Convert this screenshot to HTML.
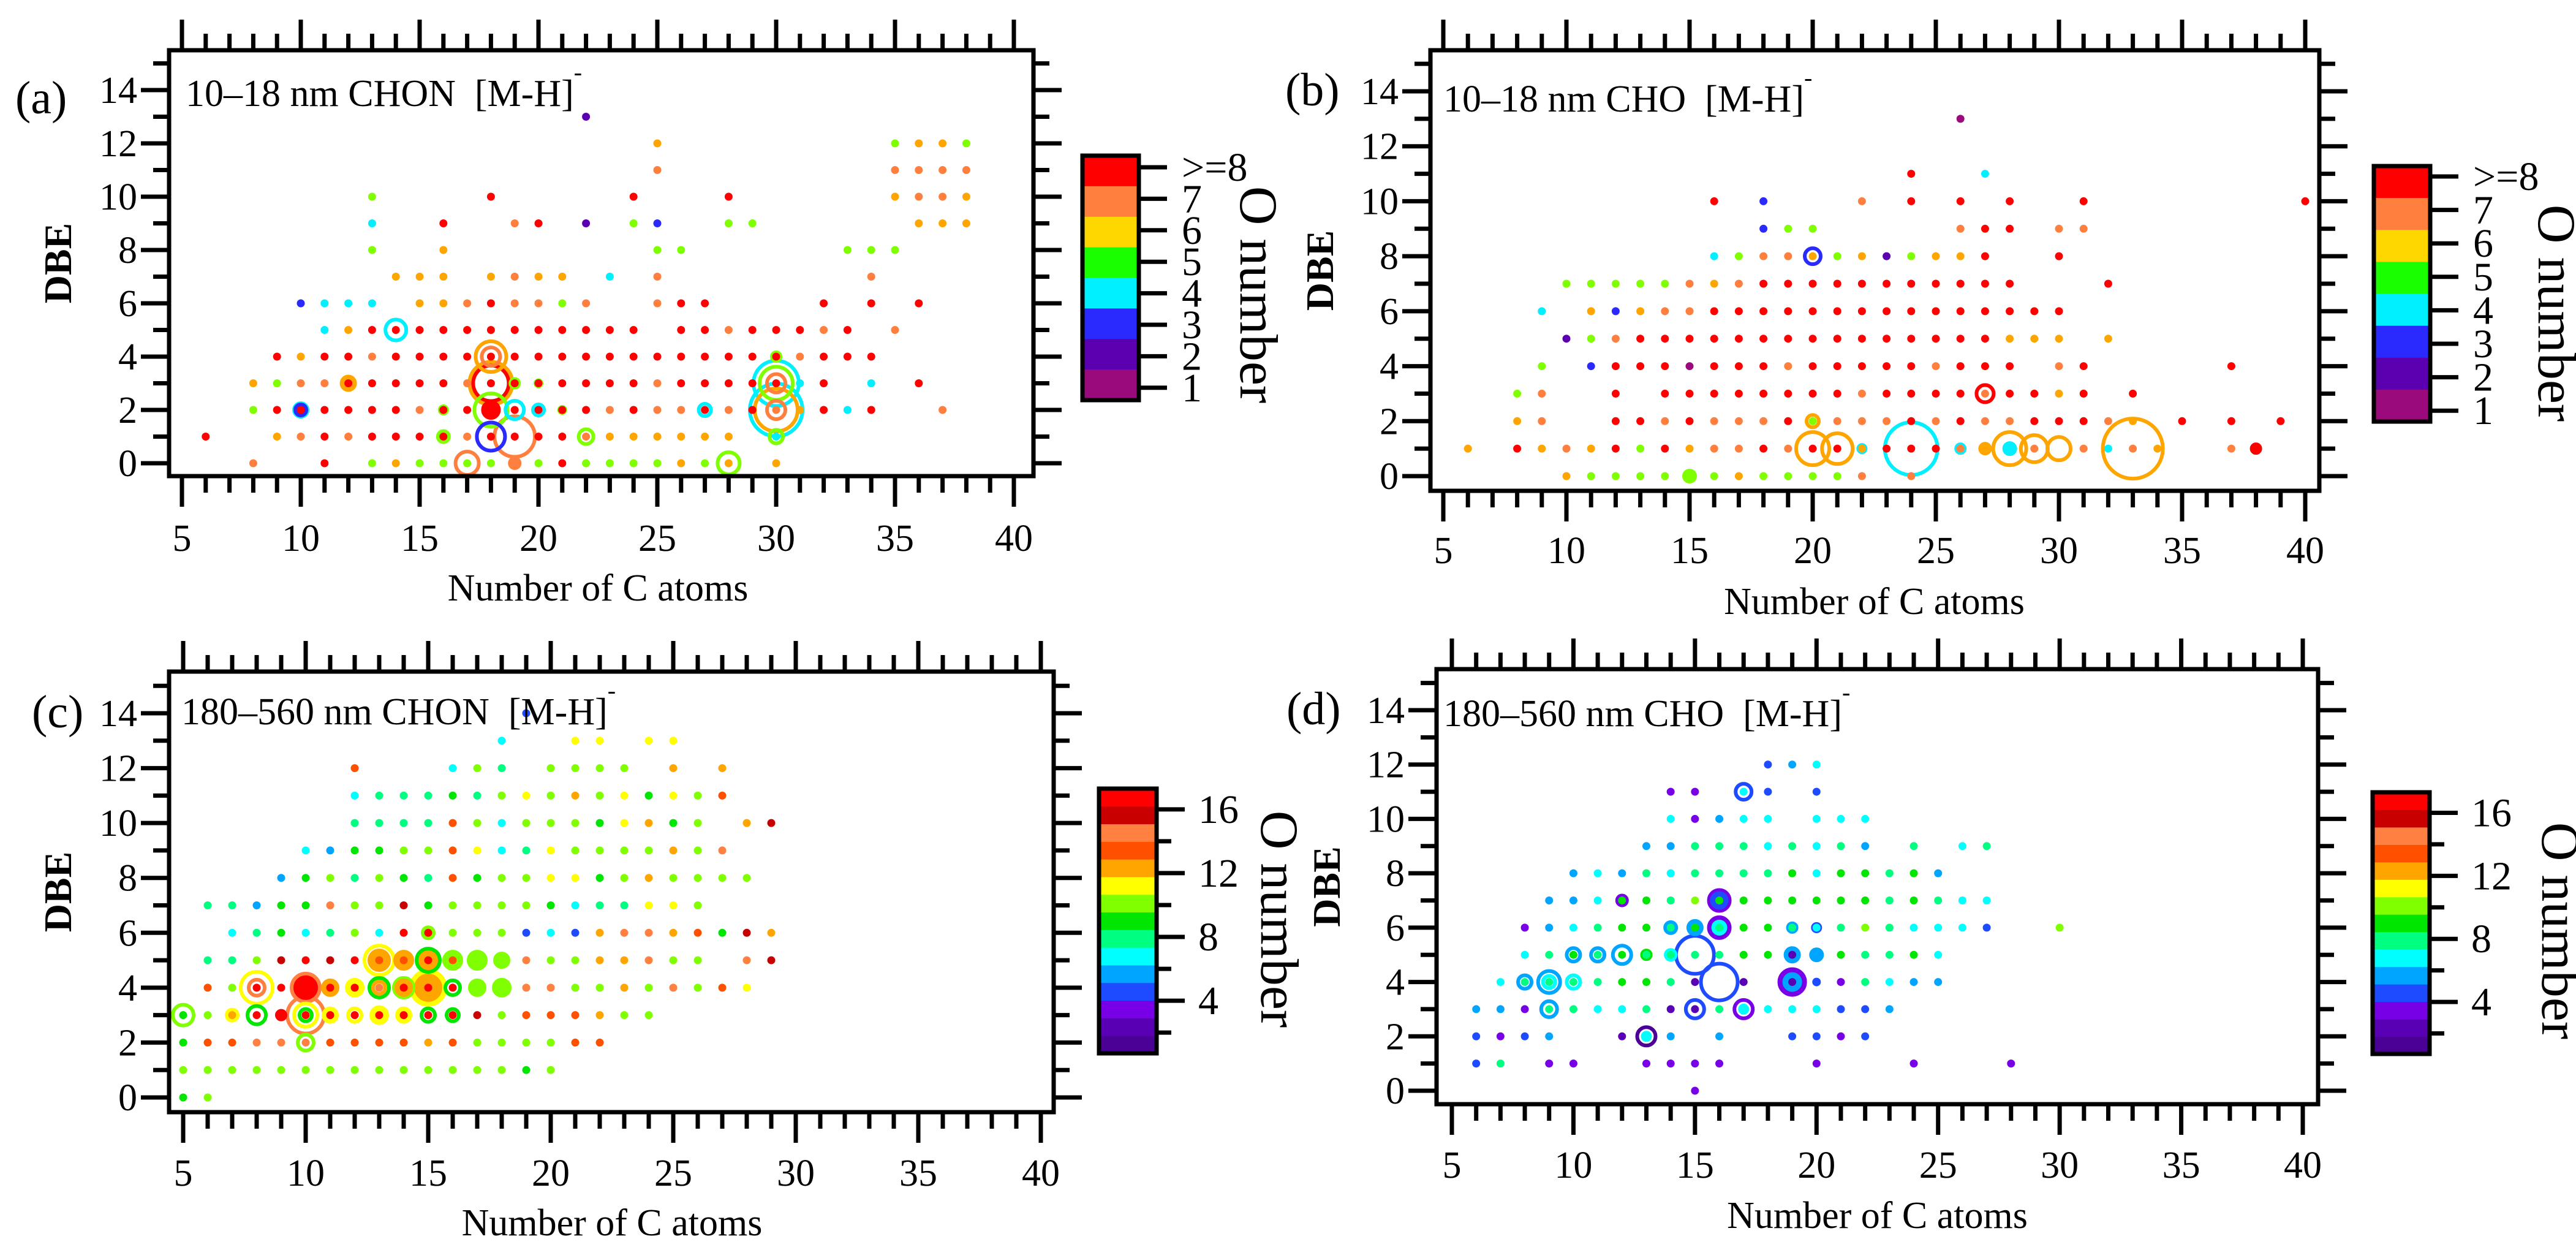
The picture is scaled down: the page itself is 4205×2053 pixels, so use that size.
<!DOCTYPE html>
<html><head><meta charset="utf-8"><style>
html,body{margin:0;padding:0;background:#fff;}
svg{display:block;font-family:"Liberation Serif",serif;}
</style></head><body>
<svg id="fig" width="4205" height="2053" viewBox="0 0 4205 2053" xmlns="http://www.w3.org/2000/svg"></svg>
<script>
// ---------- DATA: rows are [DBE, [[C, O], ...]] ----------
const aRows = [
 [13,[[22,2]]],
 [12,[[25,6],[35,5],[36,6],[37,6],[38,5]]],
 [11,[[25,7],[35,7],[36,7],[37,7],[38,7]]],
 [10,[[13,5],[18,8],[24,8],[28,8],[35,6],[36,7],[37,7],[38,6]]],
 [9,[[13,4],[16,8],[19,7],[20,8],[22,2],[24,5],[25,3],[28,5],[29,5],[36,6],[37,6],[38,6]]],
 [8,[[13,5],[16,6],[25,5],[26,5],[33,5],[34,5],[35,5]]],
 [7,[[14,6],[15,6],[16,6],[18,6],[19,7],[20,6],[21,6],[23,4],[25,7],[34,7]]],
 [6,[[10,3],[11,4],[12,4],[13,4],[15,6],[16,6],[17,7],[18,8],[19,7],[20,7],[21,5],[22,7],[25,7],[26,8],[27,8],[32,8],[34,8],[36,8]]],
 [5,[[11,4],[12,6],[13,8],[14,8],[15,8],[16,8],[17,8],[18,8],[19,8],[20,8],[21,8],[22,8],[23,8],[24,8],[26,8],[27,8],[28,7],[29,8],[30,8],[31,8],[32,7],[33,8],[35,7]]],
 [4,[[9,8],[10,6],[11,8],[12,8],[13,7],[14,8],[15,8],[16,8],[17,8],[18,8],[19,8],[20,8],[21,8],[22,8],[23,8],[24,8],[25,8],[26,8],[27,8],[28,8],[29,8],[30,8],[31,7],[32,8],[33,8],[34,8]]],
 [3,[[8,6],[9,5],[10,7],[11,7],[12,8],[13,8],[14,8],[15,8],[16,8],[17,7],[18,8],[19,8],[20,8],[21,8],[22,8],[23,8],[24,8],[25,7],[26,8],[27,8],[28,8],[29,8],[30,8],[31,4],[32,8],[34,4],[36,8]]],
 [2,[[8,5],[9,8],[10,8],[11,8],[12,8],[13,8],[14,8],[15,7],[16,8],[17,8],[18,8],[19,8],[20,8],[21,8],[22,8],[23,7],[24,8],[25,7],[26,7],[27,8],[28,7],[29,8],[30,7],[31,6],[32,8],[33,4],[34,8],[37,7]]],
 [1,[[6,8],[9,6],[10,7],[11,8],[12,7],[13,8],[14,8],[15,8],[16,8],[17,7],[18,8],[19,8],[20,8],[21,8],[22,7],[23,6],[24,6],[25,6],[26,6],[27,6],[28,6],[30,4]]],
 [0,[[8,7],[11,8],[13,5],[14,6],[15,5],[16,5],[17,5],[18,5],[19,7],[20,5],[21,8],[22,5],[23,5],[24,5],[25,5],[26,6],[27,5],[28,6],[30,6]]]
];
const aBubbles = [[14,5,4,20,0],[10,2,4,14,0],[10,2,3,10,1],[12,3,6,12,1],[17,0,7,22,0],[16,1,5,12,0],[16,2,5,9,0],[18,1,3,26,0],[19,1,7,36,0],[18,2,5,30,0],[18,2,8,14,1],[18,3,6,38,0],[18,3,8,32,0],[18,4,6,28,0],[18,4,7,18,0],[19,2,4,18,0],[20,2,4,12,0],[19,3,5,10,0],[20,3,5,8,0],[21,2,5,8,0],[22,1,5,15,0],[27,2,4,13,0],[28,0,5,21,0],[30,2,4,46,0],[30,3,4,40,0],[30,3,5,30,0],[30,3,7,18,0],[30,2,6,38,0],[30,2,7,18,0],[30,1,5,14,0],[30,4,5,10,0],[19,0,7,9,1]];

const bRows = [
 [13,[[26,1]]],
 [11,[[24,8],[27,4]]],
 [10,[[16,8],[18,3],[22,7],[24,8],[26,8],[28,8],[31,8],[40,8]]],
 [9,[[18,3],[19,5],[20,5],[26,7],[27,8],[28,8],[30,7],[31,7]]],
 [8,[[16,4],[17,5],[18,7],[19,7],[20,6],[21,5],[22,6],[23,2],[24,5],[25,6],[26,6],[27,8],[30,8]]],
 [7,[[10,5],[11,5],[12,5],[13,5],[14,5],[15,7],[16,6],[17,7],[18,8],[19,8],[20,8],[21,8],[22,8],[23,8],[24,8],[25,8],[26,8],[27,8],[28,8],[32,8]]],
 [6,[[9,4],[11,6],[12,3],[13,6],[14,7],[15,7],[16,8],[17,8],[18,8],[19,8],[20,8],[21,8],[22,8],[23,8],[24,8],[25,8],[26,8],[27,8],[28,8],[29,8],[30,8]]],
 [5,[[10,2],[11,5],[12,7],[13,8],[14,8],[15,8],[16,8],[17,8],[18,8],[19,8],[20,8],[21,8],[22,8],[23,8],[24,8],[25,8],[26,8],[27,8],[28,6],[29,6],[30,6],[32,6]]],
 [4,[[9,5],[11,3],[12,8],[13,8],[14,8],[15,1],[16,8],[17,8],[18,8],[19,7],[20,8],[21,8],[22,8],[23,8],[24,8],[25,7],[26,8],[27,8],[28,8],[30,7],[31,8],[37,8]]],
 [3,[[8,5],[9,7],[12,8],[14,8],[15,8],[16,8],[17,8],[18,8],[19,8],[20,8],[21,8],[22,7],[23,8],[24,8],[25,8],[26,8],[27,7],[28,8],[29,8],[30,6],[31,8],[33,8]]],
 [2,[[8,6],[9,7],[12,8],[13,8],[14,7],[15,8],[16,7],[17,7],[18,7],[19,8],[20,5],[21,7],[22,7],[23,7],[24,8],[25,7],[26,8],[27,7],[28,7],[29,8],[30,8],[31,8],[32,7],[33,6],[35,8],[37,8],[39,8]]],
 [1,[[6,6],[8,8],[9,6],[10,7],[11,6],[12,8],[13,5],[14,8],[15,6],[16,7],[17,7],[18,8],[19,7],[20,8],[21,8],[22,6],[23,8],[24,8],[25,8],[26,7],[27,6],[28,4],[29,7],[31,7],[32,4],[33,7],[34,6],[37,7],[38,8]]],
 [0,[[10,6],[11,5],[12,5],[13,5],[14,5],[15,5],[16,5],[17,6],[18,5],[19,5],[20,5],[21,5],[22,7],[24,7]]]
];
const bBubbles = [[20,8,3,16,0],[27,3,8,17,0],[20,2,6,13,0],[20,1,6,30,0],[21,1,6,28,0],[22,1,4,9,0],[24,1,4,46,0],[26,1,4,10,0],[27,1,6,9,1],[28,1,6,30,0],[28,1,4,12,0],[29,1,6,25,0],[30,1,6,22,0],[33,1,6,52,0],[15,0,5,10,1],[38,1,8,8,1]];

const cRows = [
 [14,[[19,5]]],
 [13,[[18,7],[21,11],[22,11],[24,11],[25,11]]],
 [12,[[12,13],[16,7],[17,10],[18,8],[20,10],[21,10],[22,10],[23,10],[25,12],[27,12]]],
 [11,[[12,7],[13,8],[14,8],[15,8],[16,9],[17,8],[18,10],[19,11],[20,10],[21,12],[22,10],[23,11],[24,9],[25,11],[26,10],[27,13]]],
 [10,[[12,8],[13,8],[14,8],[15,8],[16,13],[17,10],[18,7],[19,10],[20,10],[21,10],[22,9],[23,11],[24,12],[25,9],[26,10],[28,12],[29,16]]],
 [9,[[10,7],[11,6],[12,9],[13,9],[14,10],[15,10],[16,13],[17,11],[18,7],[19,8],[20,11],[21,10],[22,10],[23,10],[24,10],[25,12],[26,10],[27,14]]],
 [8,[[9,6],[10,9],[11,10],[12,8],[13,10],[14,9],[15,8],[16,13],[17,9],[18,10],[19,10],[20,11],[21,11],[22,9],[23,10],[24,12],[25,10],[26,10],[27,10],[28,10]]],
 [7,[[6,8],[7,8],[8,6],[9,9],[10,9],[11,14],[12,10],[13,10],[14,16],[15,9],[16,10],[17,10],[18,10],[19,10],[20,9],[21,7],[22,8],[23,8],[24,11],[25,11],[26,10]]],
 [6,[[7,7],[8,8],[9,9],[10,7],[11,8],[12,10],[13,7],[14,17],[15,17],[16,10],[17,10],[18,10],[19,5],[20,7],[21,5],[22,12],[23,14],[24,14],[25,12],[26,13],[27,9],[28,16],[29,12]]],
 [5,[[6,8],[7,8],[8,10],[9,16],[10,17],[11,16],[12,17],[13,13],[14,13],[15,17],[16,13],[17,10],[18,10],[19,14],[20,10],[21,10],[22,12],[23,12],[24,14],[25,10],[26,10],[28,14],[29,16]]],
 [4,[[6,13],[7,10],[8,17],[9,17],[10,17],[11,17],[12,17],[13,14],[14,17],[15,17],[16,17],[17,10],[18,10],[19,14],[20,14],[21,10],[22,10],[23,12],[24,10],[25,14],[26,10],[27,13],[28,11]]],
 [3,[[5,9],[6,10],[7,12],[8,17],[9,17],[10,17],[11,17],[12,17],[13,17],[14,17],[15,17],[16,17],[17,16],[18,10],[19,13],[20,13],[21,13],[22,12],[23,10],[24,10]]],
 [2,[[5,9],[6,13],[7,13],[8,14],[9,14],[10,14],[11,13],[12,13],[13,13],[14,13],[15,12],[16,13],[17,10],[18,10],[19,10],[20,10],[21,13],[22,13]]],
 [1,[[5,10],[6,10],[7,10],[8,10],[9,10],[10,10],[11,10],[12,10],[13,10],[14,10],[15,10],[16,10],[17,10],[18,10],[19,9],[20,10]]],
 [0,[[5,9],[6,10]]]
];
const cBubbles = [[5,3,10,20,0],[7,3,11,12,0],[8,3,9,18,0],[8,4,11,29,0],[8,4,14,16,0],[10,2,10,16,0],[10,3,14,33,0],[10,3,11,22,0],[10,3,9,13,0],[10,4,14,24,1],[10,4,17,18,1],[11,4,12,13,1],[11,3,11,12,1],[12,4,11,14,1],[12,3,11,14,0],[13,5,11,27,0],[13,5,12,17,1],[13,4,9,19,0],[13,4,12,13,0],[13,3,11,14,1],[14,5,12,15,1],[14,4,10,19,0],[14,4,12,13,1],[14,3,11,12,1],[15,5,9,20,1],[15,5,12,14,1],[15,4,11,29,1],[15,4,12,21,1],[15,3,9,14,0],[15,6,10,10,1],[16,5,10,15,1],[16,4,9,15,0],[16,3,9,13,0],[17,5,10,15,1],[17,4,10,13,1],[18,4,10,14,1],[18,5,10,12,1],[9,3,17,8,1]];

const dRows = [
 [12,[[18,5],[19,6],[20,7]]],
 [11,[[14,4],[15,4],[17,7],[18,5],[20,5]]],
 [10,[[14,7],[15,4],[16,6],[17,7],[18,7],[20,7],[21,7],[22,7]]],
 [9,[[13,6],[14,6],[15,8],[16,8],[17,8],[18,7],[19,8],[20,7],[21,8],[22,6],[24,8],[26,7],[27,8]]],
 [8,[[10,6],[11,7],[12,6],[13,8],[14,7],[15,8],[16,8],[17,8],[18,8],[19,9],[20,7],[21,9],[22,9],[23,8],[24,9],[25,6]]],
 [7,[[9,6],[10,6],[11,7],[12,9],[13,9],[14,8],[15,10],[16,9],[17,9],[18,9],[19,9],[20,9],[21,9],[22,9],[23,8],[24,9],[25,8],[26,7],[27,7]]],
 [6,[[8,4],[9,6],[10,7],[11,8],[12,9],[13,9],[14,8],[15,9],[16,8],[17,9],[18,9],[19,8],[20,7],[21,8],[22,10],[23,8],[24,7],[25,7],[26,7],[27,5],[30,10]]],
 [5,[[8,7],[9,8],[10,9],[11,8],[12,9],[13,8],[14,8],[15,8],[16,8],[17,9],[18,9],[19,2],[20,6],[21,9],[22,8],[23,8],[24,9],[25,7]]],
 [4,[[7,7],[8,8],[9,8],[10,8],[11,8],[12,9],[13,9],[14,8],[15,2],[17,2],[19,2],[20,5],[21,4],[22,8],[23,7],[24,6],[25,6]]],
 [3,[[6,6],[7,6],[8,4],[9,8],[10,8],[11,7],[12,7],[13,8],[14,2],[15,2],[16,8],[17,7],[18,7],[19,7],[20,7],[21,5],[22,5],[23,6]]],
 [2,[[6,5],[7,4],[8,5],[9,6],[12,2],[13,7],[14,6],[16,6],[19,5],[20,5],[21,4],[22,5]]],
 [1,[[6,5],[7,8],[9,4],[10,4],[13,4],[14,4],[15,4],[16,4],[20,4],[24,4],[28,4]]],
 [0,[[15,4]]]
];
const dBubbles = [[17,11,5,16,0],[12,7,4,9,1],[16,7,4,18,1],[16,7,5,13,1],[14,6,6,10,1],[15,6,6,12,1],[16,6,4,18,1],[16,6,7,11,1],[19,6,6,8,1],[20,6,5,7,1],[10,5,6,14,0],[11,5,6,14,0],[12,5,6,18,0],[13,5,9,8,1],[14,5,7,9,1],[15,5,5,34,0],[19,5,6,12,1],[20,5,6,10,1],[8,4,6,14,0],[9,4,6,21,0],[9,4,7,13,0],[10,4,7,14,0],[16,4,5,33,0],[19,4,4,22,1],[19,4,6,14,1],[20,4,5,7,0],[9,3,6,16,0],[15,3,5,18,0],[17,3,4,18,0],[17,3,7,9,0],[13,2,1,18,0],[13,2,7,7,1]];

const xTicks = [5,10,15,20,25,30,35,40];
const yTicks = [0,2,4,6,8,10,12,14];
const smallLabels = [">=8","7","6","5","4","3","2","1"];
const bigTicks = [16,12,8,4];

const smallDotColors = ["#9b0a7d","#5a00b0","#2a2aff","#00f0ff","#7fff00","#ffa500","#ff7f3f","#ff0000"];
const smallBarColors = ["#ff0000","#ff7f3f","#ffd700","#19ff00","#00f0ff","#2a2aff","#5a00b0","#9b0a7d"];
const bigColors = ["#4b0096","#5a00b4","#7800e6","#1e4bff","#00a5ff","#00ffff","#00ff80","#00e600","#80ff00","#ffff00","#ffa500","#ff5000","#ff8040","#c80000","#ff0000"];
const bigMin = 0.7, bigMax = 17.3;
function bigColor(o){let k=Math.floor((o-bigMin)/((bigMax-bigMin)/bigColors.length));k=Math.max(0,Math.min(bigColors.length-1,k));return bigColors[k];}
function smallColor(o){return smallDotColors[Math.max(1,Math.min(8,o))-1];}

const NS="http://www.w3.org/2000/svg";
const svg=document.getElementById('fig');
function mk(tag,attrs,parent){const e=document.createElementNS(NS,tag);for(const k in attrs)e.setAttribute(k,attrs[k]);(parent||svg).appendChild(e);return e;}
function txt(s,attrs,parent){const e=mk('text',attrs,parent);e.textContent=s;return e;}

function drawPanel(p, rows, bubbles, colorFn){
  const g=mk('g',{});
  
  
  const sx=c=>p.x5+(c-5)*(p.x40-p.x5)/35;
  const sy=d=>p.y0-(d)*(p.y0-p.y14)/14;
  for(let c=5;c<=40;c++){
    const major=(c%5===0), len=major?50:27, X=sx(c);
    const t1=mk('line',{x1:X,x2:X,y1:p.B,y2:p.B+len,stroke:'#000','stroke-width':7},g);
    
    
    const t2=mk('line',{x1:X,x2:X,y1:p.T,y2:p.T-len,stroke:'#000','stroke-width':7},g);
    
    
  }
  for(let d=0;d<=15;d++){
    const Y=sy(d); if(Y<p.T+4) continue;
    const major=(d%2===0), len=major?46:26;
    const t1=mk('line',{x1:p.L,x2:p.L-len,y1:Y,y2:Y,stroke:'#000','stroke-width':7},g);
    
    
    const t2=mk('line',{x1:p.R,x2:p.R+len,y1:Y,y2:Y,stroke:'#000','stroke-width':7},g);
    
    
  }
  xTicks.forEach(v=>{const t=txt(String(v),{x:sx(v),y:p.xlab,'font-size':62,'text-anchor':'middle','dominant-baseline':'middle'},g);
    
    });
  yTicks.forEach(v=>{const t=txt(String(v),{x:p.L-52,y:sy(v)+21,'font-size':62,'text-anchor':'end'},g);
    
    });
  const bs=bubbles.slice().sort((a,b)=>b[3]-a[3]);
  bs.forEach(b=>{
    const col=colorFn(b[2]);
    const e=b[4]?mk('circle',{cx:sx(b[0]),cy:sy(b[1]),r:b[3],fill:col,stroke:col,'stroke-width':4},g)
               :mk('circle',{cx:sx(b[0]),cy:sy(b[1]),r:b[3]-3,fill:'none',stroke:col,'stroke-width':6},g);
    
    
  });
  rows.forEach(r=>{const d=r[0];r[1].forEach(pt=>{
    const e=mk('circle',{cx:sx(pt[0]),cy:sy(d),r:6.5,fill:colorFn(pt[1])},g);
    
    
  });});
  const fr=mk('rect',{x:p.L,y:p.T,width:p.R-p.L,height:p.B-p.T,fill:'none',stroke:'#000','stroke-width':7},g);
  
  
  const tt=mk('text',{x:p.tx,y:p.ty,'font-size':62},g);
  
  
  tt.textContent=p.title+'\u00a0\u00a0[M-H]';
  const sup=mk('tspan',{dy:-42,'font-size':40},tt); sup.textContent='-';
  const pl=txt('('+p.id+')',{x:p.lx,y:p.ly,'font-size':76},g);
  
  
  const xt=txt('Number of C atoms',{x:(p.x5+p.x40)/2,y:p.xt,'font-size':62,'text-anchor':'middle','dominant-baseline':'middle'},g);
  
  
  const yt=txt('DBE',{x:0,y:0,'font-size':64,'font-weight':'bold','text-anchor':'middle',transform:`translate(${p.yx},${(p.T+p.B)/2}) rotate(-90)`},g);
  
  
  return g;
}

function drawSmallBar(c){
  const g=mk('g',{});
  
  
  const h=(c.B-c.T)/8;
  smallBarColors.forEach((col,i)=>{const r=mk('rect',{x:c.L,y:c.T+i*h,width:c.R-c.L,height:h+0.5,fill:col},g);
    
    });
  mk('rect',{x:c.L,y:c.T,width:c.R-c.L,height:c.B-c.T,fill:'none',stroke:'#000','stroke-width':7},g);
  smallLabels.forEach((s,i)=>{const Y=c.t0+i*c.dt;
    mk('line',{x1:c.R,x2:c.R+46,y1:Y,y2:Y,stroke:'#000','stroke-width':7},g);
    const t=txt(s,{x:c.R+70,y:Y+22,'font-size':66},g);
    
    });
  const t=txt('O number',{x:0,y:0,'font-size':88,'text-anchor':'middle',transform:`translate(${c.ox},${c.oy}) rotate(90)`},g);
  
  
}
function drawBigBar(c){
  const g=mk('g',{});
  
  
  const n=bigColors.length,h=(c.B-c.T)/n;
  bigColors.forEach((col,i)=>{const r=mk('rect',{x:c.L,y:c.B-(i+1)*h,width:c.R-c.L,height:h+0.5,fill:col},g);
    
    });
  mk('rect',{x:c.L,y:c.T,width:c.R-c.L,height:c.B-c.T,fill:'none',stroke:'#000','stroke-width':7},g);
  const vy=v=>c.B-(v-bigMin)*(c.B-c.T)/(bigMax-bigMin);
  [2,6,10,14].forEach(v=>mk('line',{x1:c.R,x2:c.R+24,y1:vy(v),y2:vy(v),stroke:'#000','stroke-width':7},g));
  bigTicks.forEach(v=>{mk('line',{x1:c.R,x2:c.R+46,y1:vy(v),y2:vy(v),stroke:'#000','stroke-width':7},g);
    const t=txt(String(v),{x:c.R+68,y:vy(v)+22,'font-size':66},g);
    
    });
  const t=txt('O number',{x:0,y:0,'font-size':88,'text-anchor':'middle',transform:`translate(${c.ox},${c.oy}) rotate(90)`},g);
  
  
}

drawPanel({id:'a',L:276,R:1687,T:82,B:777,x5:297,x40:1655,y0:756,y14:147,xlab:885,xt:966,yx:116,tx:303,ty:173,lx:25,ly:185,title:'10\u201318 nm CHON'},aRows,aBubbles,smallColor);
drawPanel({id:'b',L:2335,R:3786,T:82,B:801,x5:2356,x40:3763,y0:777,y14:149,xlab:905,xt:988,yx:2176,tx:2356,ty:182,lx:2098,ly:172,title:'10\u201318 nm CHO'},bRows,bBubbles,smallColor);
drawPanel({id:'c',L:276,R:1720,T:1096,B:1815,x5:299,x40:1699,y0:1791,y14:1164,xlab:1921,xt:2002,yx:116,tx:296,ty:1182,lx:52,ly:1187,title:'180\u2013560 nm CHON'},cRows,cBubbles,bigColor);
drawPanel({id:'d',L:2345,R:3784,T:1092,B:1802,x5:2370,x40:3759,y0:1780,y14:1159,xlab:1908,xt:1990,yx:2187,tx:2356,ty:1185,lx:2100,ly:1182,title:'180\u2013560 nm CHO'},dRows,dBubbles,bigColor);

drawSmallBar({L:1767,R:1859,T:254,B:653,t0:273,dt:51.4,ox:2025,oy:481});
drawSmallBar({L:3875,R:3967,T:271,B:688,t0:288,dt:54.6,ox:4144,oy:511});
drawBigBar({L:1794,R:1888,T:1287,B:1719,ox:2059,oy:1500});
drawBigBar({L:3873,R:3966,T:1293,B:1720,ox:4150,oy:1519});
</script>
</body></html>
